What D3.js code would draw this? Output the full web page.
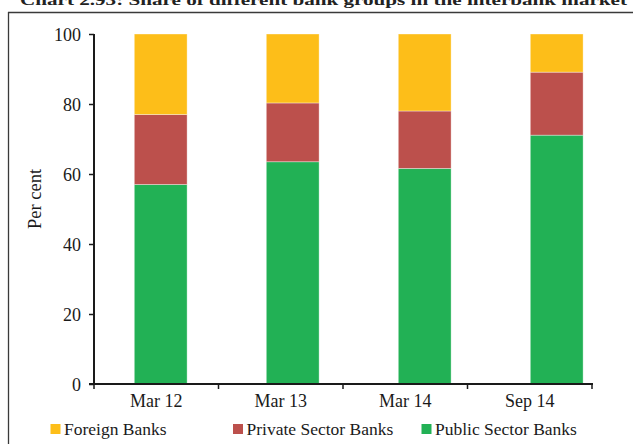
<!DOCTYPE html>
<html>
<head>
<meta charset="utf-8">
<script src="https://cdn.jsdelivr.net/npm/d3@7"></script>
<style>
  html, body { margin: 0; padding: 0; background: #fff; }
  svg { display: block; font-family: "Liberation Serif", "DejaVu Serif", serif; }
</style>
</head>
<body>
<svg id="chart" width="633" height="444"></svg>
<script>
// Share of bank groups in the interbank market (per cent)
const categories = ["Mar 12", "Mar 13", "Mar 14", "Sep 14"];
const publicSector = [57, 63.5, 61.6, 71.1];
const privateSector = [20, 16.8, 16.4, 18];
const foreign = [23, 19.7, 22, 10.9];
const yTicks = [0, 20, 40, 60, 80, 100];

const seriesNames = ["Public Sector Banks", "Private Sector Banks", "Foreign Banks"];
const seriesColors = ["#22b155", "#bc504c", "#fdbe19"];
const legendOrder = ["Foreign Banks", "Private Sector Banks", "Public Sector Banks"];

const rows = categories.map((c, i) => ({
  cat: c,
  "Public Sector Banks": publicSector[i],
  "Private Sector Banks": privateSector[i],
  "Foreign Banks": foreign[i]
}));

const svg = d3.select("#chart");
const color = d3.scaleOrdinal().domain(seriesNames).range(seriesColors);

// Plot geometry
const plot = { left: 94, right: 592, top: 34, bottom: 384 };

const y = d3.scaleLinear().domain([0, 100]).range([plot.bottom, plot.top]);

// Category axis spans the plot; bars sit on their own band layout
const xAxis = d3.scaleBand().domain(categories).range([plot.left, plot.right]).padding(0);
const xBar = d3.scaleBand().domain(categories).range([94.7, 622.7])
  .paddingInner(0.6).paddingOuter(0.3);

// Outer frame (top and left rules)
svg.append("line").attr("x1", 8).attr("x2", 633).attr("y1", 12.5).attr("y2", 12.5)
  .attr("stroke", "#3a3a3a").attr("stroke-width", 1.3);
svg.append("line").attr("x1", 8.5).attr("x2", 8.5).attr("y1", 12).attr("y2", 444)
  .attr("stroke", "#3a3a3a").attr("stroke-width", 1.3);

// Title line above the frame
svg.append("text")
  .attr("x", 20).attr("y", 4.5)
  .attr("textLength", 607).attr("lengthAdjust", "spacingAndGlyphs")
  .attr("font-weight", "bold").attr("font-size", 15).attr("fill", "#222")
  .text("Chart 2.93: Share of different bank groups in the interbank market");

// Stacked bars
const stacked = d3.stack().keys(seriesNames)(rows);
svg.append("g").selectAll("g")
  .data(stacked).join("g")
  .attr("fill", d => color(d.key))
  .selectAll("rect")
  .data(d => d).join("rect")
  .attr("x", d => xBar(d.data.cat))
  .attr("width", xBar.bandwidth())
  .attr("y", d => y(d[1]))
  .attr("height", d => y(d[0]) - y(d[1]))
  .attr("stroke", "rgba(255,255,255,0.45)")
  .attr("stroke-width", 0.8);

// Y axis
const gy = svg.append("g").attr("transform", `translate(${plot.left},0)`)
  .call(d3.axisLeft(y).tickValues(yTicks).tickSize(5).tickPadding(8));
gy.select(".domain").attr("stroke", "#1a1a1a").attr("stroke-width", 2)
  .attr("d", `M0,${plot.top}V${plot.bottom}`);
gy.selectAll(".tick line").attr("stroke", "#1a1a1a").attr("stroke-width", 1.5);
gy.selectAll(".tick text").attr("font-size", 18).attr("fill", "#1a1a1a")
  .attr("font-family", "Liberation Serif, serif").attr("dy", "0.35em");

// X axis: labels centred in bands, tick marks on band boundaries
const gx = svg.append("g").attr("transform", `translate(0,${plot.bottom})`);
gx.append("line").attr("x1", plot.left - 5).attr("x2", plot.right + 1)
  .attr("y1", 0).attr("y2", 0).attr("stroke", "#1a1a1a").attr("stroke-width", 2);
const bounds = categories.map(c => xAxis(c)).concat([xAxis.range()[1]]);
gx.selectAll("line.tk").data(bounds).join("line").attr("class", "tk")
  .attr("x1", d => d).attr("x2", d => d).attr("y1", 0).attr("y2", 5)
  .attr("stroke", "#1a1a1a").attr("stroke-width", 1.5);
gx.selectAll("text").data(categories).join("text")
  .attr("x", d => xAxis(d) + xAxis.bandwidth() / 2)
  .attr("y", 23)
  .attr("text-anchor", "middle").attr("font-size", 18).attr("fill", "#1a1a1a")
  .text(d => d);

// Y axis title
svg.append("text")
  .attr("transform", `translate(41,199) rotate(-90)`)
  .attr("text-anchor", "middle").attr("font-size", 18.5).attr("fill", "#1a1a1a")
  .text("Per cent");

// Legend
const legendX = [50.5, 233, 421.5];
const lg = svg.append("g").selectAll("g").data(legendOrder).join("g")
  .attr("transform", (d, i) => `translate(${legendX[i]},424)`);
lg.append("rect").attr("width", 10).attr("height", 10).attr("fill", d => color(d));
lg.append("text").attr("x", 13.5).attr("y", 10.5)
  .attr("font-size", 17.5).attr("fill", "#1a1a1a").text(d => d);
</script>
</body>
</html>
